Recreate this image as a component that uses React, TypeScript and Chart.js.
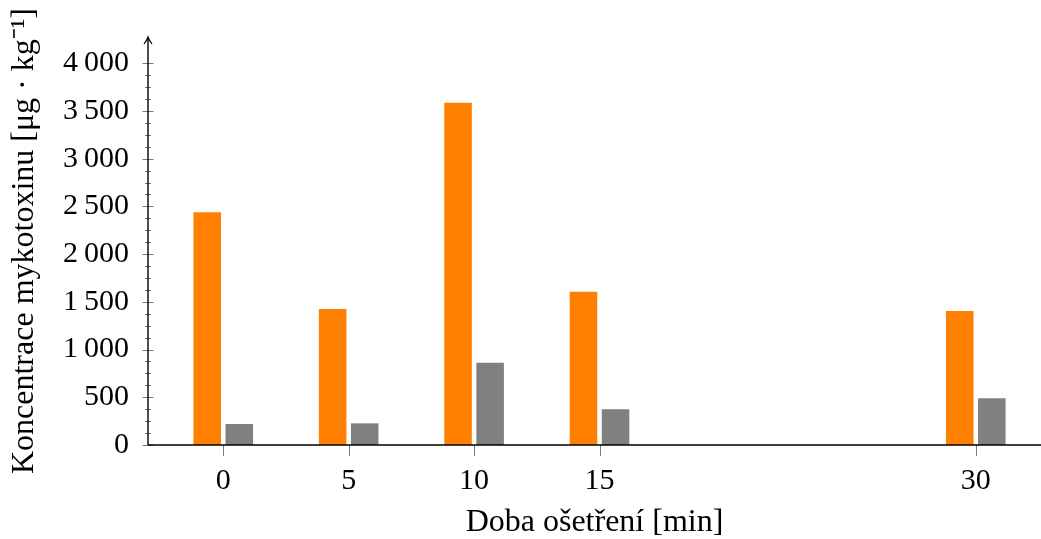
import React, { useEffect, useRef } from "react";
import { Chart, registerables } from "chart.js";

Chart.register(...registerables);

const xValues = [0, 5, 10, 15, 30];
const xTickLabels = ["0", "5", "10", "15", "30"];
const orangeValues = [2440, 1425, 3585, 1605, 1405];
const grayValues = [220, 227, 863, 374, 490];
const yMajorTicks = [0, 500, 1000, 1500, 2000, 2500, 3000, 3500, 4000];
const yMinorStep = 125;

const xTitle = "Doba ošetření [min]";
const yTitle = "Koncentrace mykotoxinu [μg · kg⁻¹]";

const FONT = "'Liberation Serif', 'Times New Roman', serif";

const fmt = (v: number) => {
  const s = String(Math.round(v));
  if (s.length <= 3) return s;
  return s.slice(0, s.length - 3) + "\u2009" + s.slice(s.length - 3);
};

const axisDecor = {
  id: "axisDecor",
  afterDraw(chart: any) {
    const { ctx, chartArea, scales } = chart;
    const xs = scales.x;
    const ys = scales.y;
    const left = chartArea.left;
    const bottom = chartArea.bottom;
    ctx.save();
    ctx.strokeStyle = "#7a7a7a";
    ctx.lineWidth = 1;
    const maxTick = yMajorTicks[yMajorTicks.length - 1];
    for (let v = 0; v <= maxTick; v += yMinorStep) {
      const py = Math.round(ys.getPixelForValue(v)) + 0.5;
      const half = yMajorTicks.includes(v) ? 5.5 : 3;
      ctx.beginPath();
      ctx.moveTo(left - half, py);
      ctx.lineTo(left + half, py);
      ctx.stroke();
    }
    for (const xv of xValues) {
      const px = Math.round(xs.getPixelForValue(xv)) + 0.5;
      ctx.beginPath();
      ctx.moveTo(px, bottom);
      ctx.lineTo(px, bottom + 11);
      ctx.stroke();
    }
    // axes
    ctx.strokeStyle = "#000";
    ctx.lineWidth = 1.4;
    ctx.beginPath();
    ctx.moveTo(left, bottom);
    ctx.lineTo(left, chartArea.top + 1);
    ctx.stroke();
    ctx.beginPath();
    ctx.moveTo(left, bottom);
    ctx.lineTo(chartArea.right, bottom);
    ctx.stroke();
    // arrow head
    const tipY = chartArea.top;
    ctx.lineWidth = 1.2;
    ctx.beginPath();
    ctx.moveTo(left - 4, tipY + 7);
    ctx.quadraticCurveTo(left - 1, tipY + 3, left, tipY);
    ctx.quadraticCurveTo(left + 1, tipY + 3, left + 4, tipY + 7);
    ctx.stroke();
    ctx.restore();
  },
};

export default function App() {
  const ref = useRef<HTMLCanvasElement>(null);
  useEffect(() => {
    if (!ref.current) return;
    const chart = new Chart(ref.current, {
      type: "bar",
      data: {
        datasets: [
          {
            label: "A",
            data: xValues.map((x, i) => ({ x, y: orangeValues[i] })),
            backgroundColor: "rgb(255,128,0)",
            borderWidth: 0,
          },
          {
            label: "B",
            data: xValues.map((x, i) => ({ x, y: grayValues[i] })),
            backgroundColor: "rgb(128,128,128)",
            borderWidth: 0,
          },
        ],
      },
      options: {
        responsive: false,
        animation: false,
        layout: { padding: { top: 37, right: 0, left: 0, bottom: 0 } },
        categoryPercentage: 0.511,
        barPercentage: 0.86,
        plugins: {
          legend: { display: false },
          tooltip: { enabled: false },
        },
        scales: {
          x: {
            type: "linear",
            offset: false,
            min: -3,
            max: 32.6,
            grid: { display: false, drawTicks: false },
            border: { display: false },
            afterBuildTicks: (scale: any) => {
              scale.ticks = xValues.map((v) => ({ value: v }));
            },
            afterFit: (scale: any) => {
              scale.height = 94;
            },
            ticks: {
              autoSkip: false,
              maxRotation: 0,
              padding: 18,
              color: "#000",
              font: { family: FONT, size: 30 },
              callback: (v: any) => {
                const i = xValues.indexOf(Number(v));
                return i >= 0 ? xTickLabels[i] : "";
              },
            },
            title: {
              display: true,
              text: xTitle,
              color: "#000",
              font: { family: FONT, size: 32, lineHeight: 1.05 },
              padding: { top: 0, bottom: 0 },
            },
          },
          y: {
            type: "linear",
            min: 0,
            max: 4275,
            grid: { display: false, drawTicks: false },
            border: { display: false },
            afterBuildTicks: (scale: any) => {
              scale.ticks = yMajorTicks.map((v) => ({ value: v }));
            },
            afterFit: (scale: any) => {
              scale.width = 148;
            },
            ticks: {
              padding: 19,
              color: "#000",
              font: { family: FONT, size: 30 },
              callback: (v: any) => fmt(Number(v)),
            },
            title: {
              display: true,
              text: yTitle,
              color: "#000",
              font: { family: FONT, size: 32, lineHeight: 1.05 },
              padding: { top: 8, bottom: 0 },
            },
          },
        },
      } as any,
      plugins: [axisDecor],
    });
    return () => chart.destroy();
  }, []);
  return (
    <div style={{ position: "fixed", left: 0, top: 0, width: 1041, height: 539, background: "#fff" }}>
      <canvas ref={ref} width={1041} height={539} style={{ display: "block" }} />
    </div>
  );
}
